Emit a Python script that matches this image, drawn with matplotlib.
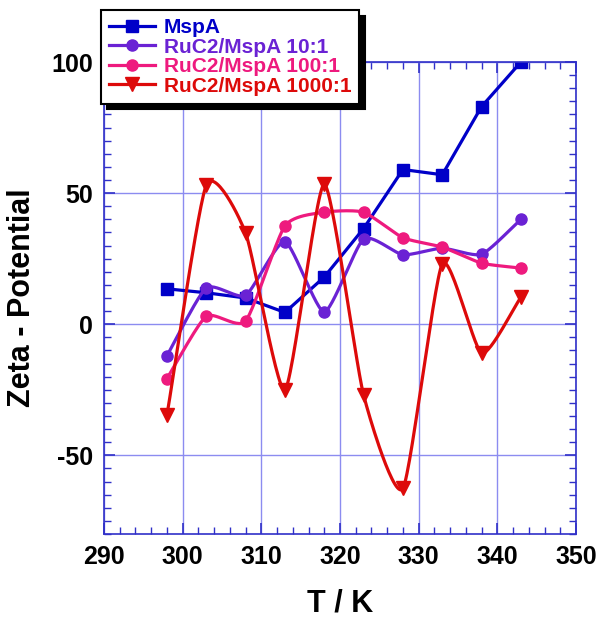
import matplotlib.pyplot as plt
import numpy as np
from matplotlib.ticker import MultipleLocator

plt.rcParams['font.family'] = ['Liberation Sans', 'DejaVu Sans']
plt.rcParams['font.weight'] = 'bold'
plt.rcParams['axes.unicode_minus'] = False

temps = [298, 303, 308, 313, 318, 323, 328, 333, 338, 343]
mspa = [13.5, 12, 10, 4.5, 18, 36.5, 59, 57, 83, 100]
ruc2_10 = [-12, 13.8, 11, 31.5, 4.7, 32.5, 26.5, 29, 26.7, 40]
ruc2_100 = [-20.7, 3, 1.2, 37.5, 42.7, 42.7, 33, 29.4, 23.3, 21.4]
ruc2_1000 = [-34.7, 53, 34.8, -25, 53.4, -27, -62.6, 23, -11, 10.3]

labels = ['MspA', 'RuC2/MspA 10:1', 'RuC2/MspA 100:1', 'RuC2/MspA 1000:1']
colors = ['#0000c8', '#6a22d4', '#ee1a7e', '#dd0a0a']


def smooth(x, y, k=0.3, n=30):
    # cardinal spline through the points, only for drawing the curve
    x = np.asarray(x, float)
    y = np.asarray(y, float)
    px = np.concatenate([[2 * x[0] - x[1]], x, [2 * x[-1] - x[-2]]])
    py = np.concatenate([[2 * y[0] - y[1]], y, [2 * y[-1] - y[-2]]])
    t = np.linspace(0, 1, n)
    h00 = 2 * t**3 - 3 * t**2 + 1
    h10 = t**3 - 2 * t**2 + t
    h01 = -2 * t**3 + 3 * t**2
    h11 = t**3 - t**2
    xs, ys = [], []
    for i in range(1, len(px) - 2):
        for p, out in ((px, xs), (py, ys)):
            m1 = k * (p[i + 1] - p[i - 1])
            m2 = k * (p[i + 2] - p[i])
            out.extend(h00 * p[i] + h10 * m1 + h01 * p[i + 1] + h11 * m2)
    return xs, ys


fig = plt.figure(figsize=(5.99, 6.25), dpi=100)
ax = fig.add_axes([0.1736, 0.1456, 0.788, 0.7552])

handles = []
h0, = ax.plot(temps, mspa, color=colors[0], lw=2.3, marker='s', ms=9)
handles.append(h0)
for vals, c, m, ms in [(ruc2_10, colors[1], 'o', 8),
                       (ruc2_100, colors[2], 'o', 8),
                       (ruc2_1000, colors[3], 'v', 10)]:
    sx, sy = smooth(temps, vals)
    ax.plot(sx, sy, color=c, lw=2.3)
    ax.plot(temps, vals, ls='none', marker=m, ms=ms, color=c)
    h, = ax.plot([], [], color=c, lw=2.3, marker=m, ms=ms)
    handles.append(h)

ax.set_xlim(290, 350)
ax.set_ylim(-80, 100)
ax.xaxis.set_major_locator(MultipleLocator(10))
ax.xaxis.set_minor_locator(MultipleLocator(2))
ax.yaxis.set_major_locator(MultipleLocator(50))
ax.yaxis.set_minor_locator(MultipleLocator(5))
ax.grid(True, which='major', color='#8c8cf0', lw=1)
ax.set_axisbelow(True)
for s in ax.spines.values():
    s.set_color('#3030c8')
    s.set_linewidth(1.2)
ax.tick_params(which='both', direction='in', top=True, right=True,
               color='#3030c8', labelsize=18, pad=8)
ax.tick_params(which='major', length=8, width=1.2)
ax.tick_params(which='minor', length=5, width=1)

ax.set_xlabel('T / K', fontsize=22, fontweight='bold', labelpad=14)
ax.set_ylabel('Zeta - Potential', fontsize=22, fontweight='bold', labelpad=10)

leg = fig.legend(handles, labels, loc='upper left',
                 bbox_to_anchor=(101 / 599, 1 - 10 / 625),
                 fontsize=15, frameon=True, fancybox=False,
                 shadow={'color': 'black', 'alpha': 1, 'ox': 4, 'oy': -4},
                 labelspacing=0.02, handlelength=2.2, handletextpad=0.4,
                 borderpad=0.4, borderaxespad=0)
leg.get_frame().set_edgecolor('black')
leg.get_frame().set_linewidth(1.5)
for t, c in zip(leg.get_texts(), colors):
    t.set_color(c)
    t.set_fontweight('bold')

fig.savefig('out.png', dpi=100)
